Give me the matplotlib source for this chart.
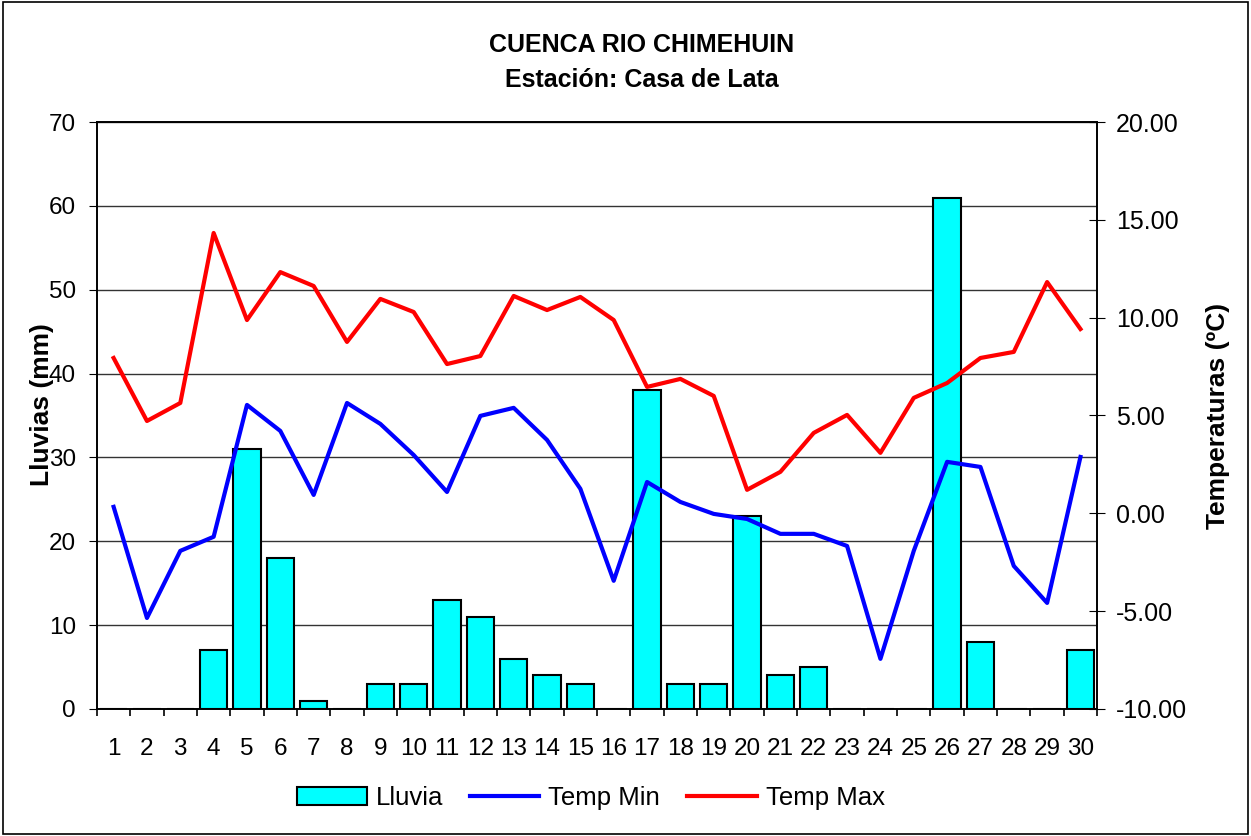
import numpy as np
import matplotlib.pyplot as plt
from matplotlib.patches import Rectangle

plt.rcParams['font.family'] = ['Liberation Sans', 'DejaVu Sans']

# datos diarios
dias = list(range(1, 31))
lluvia = [0, 0, 0, 7, 31, 18, 1, 0, 3, 3, 13, 11, 6, 4, 3,
          0, 38, 3, 3, 23, 4, 5, 0, 0, 0, 61, 8, 0, 0, 7]
temp_min = [0.33, -5.35, -1.92, -1.2, 5.54, 4.21, 0.94, 5.64, 4.57, 2.98,
            1.09, 4.98, 5.39, 3.75, 1.25, -3.45, 1.6, 0.58, -0.03, -0.29,
            -1.05, -1.05, -1.67, -7.44, -1.92, 2.63, 2.37, -2.69, -4.58, 2.88]
temp_max = [7.94, 4.72, 5.64, 14.33, 9.88, 12.33, 11.62, 8.76, 10.96, 10.29,
            7.63, 8.04, 11.11, 10.39, 11.06, 9.88, 6.46, 6.87, 6.0, 1.2,
            2.12, 4.11, 5.03, 3.09, 5.9, 6.66, 7.94, 8.25, 11.82, 9.42]

fig = plt.figure(figsize=(12.51, 8.36), dpi=100)
fig.patches.append(Rectangle((0.002, 0.002), 0.996, 0.996, transform=fig.transFigure,
                             fill=False, edgecolor='black', lw=1.2))

ax = fig.add_axes([0.0775, 0.152, 0.7995, 0.702])
ax.bar(dias, lluvia, width=0.82, color='#00ffff', edgecolor='black', lw=1.5,
       label='Lluvia', zorder=2)
ax.set_xlim(0.5, 30.5)
ax.set_ylim(0, 70)
ax.set_yticks(range(0, 71, 10))
# etiquetas en el centro, marcas entre categorias (estilo Excel)
ax.set_xticks(dias)
ax.set_xticks([d - 0.5 for d in dias] + [dias[-1] + 0.5], minor=True)
ax.grid(axis='y', color='#333333', lw=1, zorder=0)
ax.set_axisbelow(True)
ax.tick_params(axis='y', labelsize=17.5, direction='out', length=6, pad=9)
ax.tick_params(axis='x', which='major', labelsize=17.5, length=0, pad=21)
ax.tick_params(axis='x', which='minor', direction='out', length=5, width=1.2)
ax.set_ylabel('Lluvias (mm)', fontsize=19, fontweight='bold')
ax.yaxis.set_label_coords(-0.043, 0.518)

ax2 = ax.twinx()
l1, = ax2.plot(dias, temp_min, color='#0000ff', lw=3, label='Temp Min')
l2, = ax2.plot(dias, temp_max, color='#ff0000', lw=3, label='Temp Max')
ax2.set_ylim(-10, 20)
ax2.set_yticks(np.arange(-10, 21, 5))
ax2.set_yticklabels([f'{v:.2f}' for v in np.arange(-10, 21, 5)])
ax2.tick_params(axis='y', labelsize=18, direction='inout', length=11, pad=8)
ax2.set_ylabel('Temperaturas (ºC)', fontsize=19, fontweight='bold')
ax2.yaxis.set_label_coords(1.109, 0.499)

for a in (ax, ax2):
    for s in a.spines.values():
        s.set_linewidth(1.2)

fig.text(0.513, 0.946, 'CUENCA RIO CHIMEHUIN', ha='center', va='center',
         fontsize=18, fontweight='bold')
fig.text(0.513, 0.904, 'Estación: Casa de Lata', ha='center', va='center',
         fontsize=18, fontweight='bold')

h1, lab1 = ax.get_legend_handles_labels()
fig.legend(h1 + [l1, l2], lab1 + ['Temp Min', 'Temp Max'], loc='center',
           bbox_to_anchor=(0.4724, 0.0455), ncol=3, frameon=False, fontsize=18.5,
           handlelength=2.7, handletextpad=0.35, columnspacing=1.05)

fig.savefig('out.png', dpi=100)
